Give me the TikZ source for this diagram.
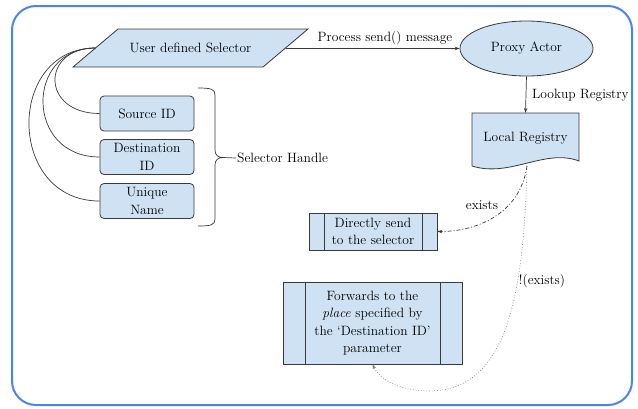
\documentclass[tikz,border=0pt]{standalone}
\usepackage{fontspec}
\setmainfont{Latin Modern Roman}
\usetikzlibrary{shapes.geometric,arrows.meta,calc}
\definecolor{boxfill}{HTML}{CFE2F3}
\definecolor{boxline}{HTML}{3A3A3A}
\definecolor{framecol}{HTML}{4A86E8}
\begin{document}
\begin{tikzpicture}[x=1pt,y=-1pt,
  font=\fontsize{13.5}{17.5}\selectfont,
  boxsty/.style={draw=boxline, fill=boxfill, line width=0.8pt},
  hbox/.style={boxsty, rounded corners=4pt, minimum width=94pt, minimum height=35pt, align=center, inner sep=1pt},
  pbox/.style={boxsty, align=center, inner sep=1pt},
  conn/.style={draw=boxline, line width=0.7pt},
  arr/.style={conn, -{Stealth[length=5pt,width=3.5pt]}},
  lbl/.style={inner sep=1pt}
]
\useasboundingbox (0,0) rectangle (638,408);
\draw[framecol, line width=2pt, rounded corners=24pt] (12,6) rectangle (632,405);

% parallelogram
\draw[boxsty] (73,67) -- (118,29) -- (308,29) -- (263,67) -- cycle;
\node[inner sep=1pt] (sel) at (190.5,48) {User defined Selector};
\coordinate (selL) at (95.5,48);
\coordinate (selR) at (285.5,48.5);

% handle boxes
\node[hbox] (src) at (147,113.5) {Source ID};
\node[hbox] (dst) at (147,157) {Destination\\ID};
\node[hbox] (uni) at (147,201) {Unique\\Name};

\draw[conn] (selL) .. controls (40.8,48) and (40.8,113.5) .. (src.west);
\draw[conn] (selL) .. controls (24.8,48) and (24.8,157) .. (dst.west);
\draw[conn] (selL) .. controls (6.1,48) and (6.1,201) .. (uni.west);

% brace
\coordinate (btip) at (223,157.5);
\draw[conn] (198,88) .. controls (211,88) and (215,89) .. (215,95) -- (215,150)
  .. controls (215,155) and (218,157.5) .. (btip)
  .. controls (218,157.5) and (215,160) .. (215,165) -- (215,219)
  .. controls (215,225) and (211,226) .. (198,226);
\node[lbl, anchor=west] (hdl) at (236,158) {Selector Handle};
\draw[conn] (btip) -- (hdl.west);

% proxy
\node[boxsty, ellipse, minimum width=133pt, minimum height=55pt, inner sep=0pt] (proxy) at (526.5,48.5) {Proxy Actor};
\draw[arr] (selR) -- (proxy.west);
\node[lbl] (psm) at (385,38) {Process send() message};

% registry
\draw[boxsty] (472,113) -- (579,113) -- (579,161) .. controls (545,148) and (510,178) .. (472,166) -- cycle;
\node[minimum width=107pt, minimum height=50pt, inner sep=0pt] (reg) at (525.5,138) {Local Registry};
\draw[arr] (proxy.south) -- (reg.north);
\node[lbl, anchor=west] (lkp) at (531,95) {Lookup Registry};
\coordinate (rb) at (527,166);

% directly send
\node[pbox, minimum width=128pt, minimum height=37pt] (direct) at (373,231.5) {Directly send\\to the selector};
\draw[boxline, line width=0.8pt] ($(direct.north west)+(16,0)$) -- ($(direct.south west)+(16,0)$);
\draw[boxline, line width=0.8pt] ($(direct.north east)+(-15,0)$) -- ($(direct.south east)+(-15,0)$);

% forwards
\node[pbox, minimum width=179pt, minimum height=82pt] (fwd) at (372.5,323) {Forwards to the\\\textit{place} specified by\\the ‘Destination ID’\\parameter};
\draw[boxline, line width=0.8pt] ($(fwd.north west)+(23,0)$) -- ($(fwd.south west)+(23,0)$);
\draw[boxline, line width=0.8pt] ($(fwd.north east)+(-22,0)$) -- ($(fwd.south east)+(-22,0)$);

% exists
\draw[arr, dash pattern=on 4pt off 2pt on 1pt off 2pt] (rb) .. controls (520,215) and (475,231.5) .. (direct.east);
\node[lbl] (ex) at (482,205) {exists};

% not exists
\draw[arr, draw=gray, dotted] (rb) .. controls (524,300) and (505,390) .. (430,391) .. controls (400,391) and (380,380) .. (fwd.south);
\node[lbl] (nex) at (542,281) {!(exists)};
\end{tikzpicture}
\end{document}
